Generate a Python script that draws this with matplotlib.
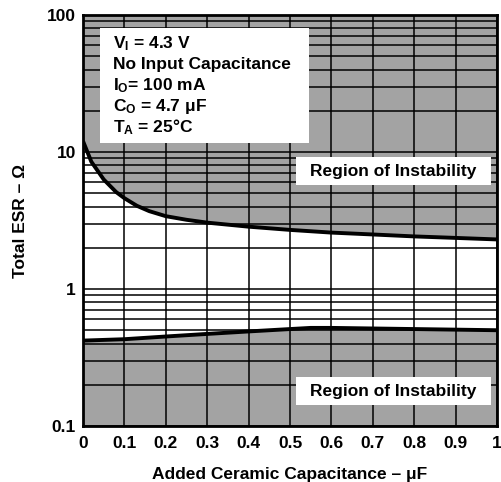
import numpy as np
import matplotlib
matplotlib.use('Agg')
import matplotlib.pyplot as plt
from matplotlib.patches import Rectangle

# upper stability boundary (ESR max) vs added ceramic capacitance
x_upper = [0.0, 0.02, 0.05, 0.08, 0.1, 0.13, 0.16, 0.2, 0.25, 0.3, 0.4, 0.5, 0.6, 0.7, 0.8, 0.9, 1.0]
esr_upper = [12.0, 8.5, 6.3, 5.1, 4.6, 4.05, 3.7, 3.4, 3.2, 3.05, 2.85, 2.7, 2.58, 2.5, 2.42, 2.36, 2.3]

# lower stability boundary (ESR min)
x_lower = [0.0, 0.1, 0.2, 0.3, 0.4, 0.5, 0.55, 0.6, 0.7, 0.8, 0.9, 1.0]
esr_lower = [0.42, 0.43, 0.45, 0.47, 0.49, 0.51, 0.52, 0.52, 0.515, 0.51, 0.505, 0.5]

xticks = [0, 0.1, 0.2, 0.3, 0.4, 0.5, 0.6, 0.7, 0.8, 0.9, 1]
xticklabels = ['0', '0.1', '0.2', '0.3', '0.4', '0.5', '0.6', '0.7', '0.8', '0.9', '1']
yticks = [0.1, 1, 10, 100]
yticklabels = ['0.1', '1', '10', '100']

info_lines = [r'V$_\mathregular{I}$ = 4.3 V',
              'No Input Capacitance',
              r'I$_\mathregular{O}$= 100 mA',
              r'C$_\mathregular{O}$ = 4.7 μF',
              r'T$_\mathregular{A}$ = 25°C']

plt.rcParams['font.family'] = ['Liberation Sans', 'DejaVu Sans']
plt.rcParams['font.weight'] = 'bold'
plt.rcParams['mathtext.default'] = 'regular'

fig = plt.figure(figsize=(5.01, 4.82), dpi=100)
ax = fig.add_axes([0.1657, 0.1162, 0.8263, 0.8527])
ax.set_yscale('log')
ax.set_xlim(0, 1)
ax.set_ylim(0.1, 100)

gray = '#a3a3a3'
ax.fill_between(x_upper, esr_upper, 100, color=gray, lw=0, zorder=1)
ax.fill_between(x_lower, 0.1, esr_lower, color=gray, lw=0, zorder=1)

ax.set_xticks(xticks)
ax.set_xticklabels(xticklabels)
ax.set_yticks(yticks)
ax.set_yticklabels(yticklabels)
ax.tick_params(which='both', length=0, labelsize=12.5)
ax.tick_params(axis='x', pad=7)
ax.tick_params(axis='y', pad=5)
for lab in ax.get_xticklabels() + ax.get_yticklabels():
    lab.set_fontweight('bold')
ax.grid(True, which='major', axis='x', color='black', lw=1.1, zorder=2)
ax.grid(True, which='both', axis='y', color='black', lw=1.1, zorder=2)
ax.set_axisbelow(False)

ax.plot(x_upper, esr_upper, color='black', lw=2.8, zorder=3, solid_capstyle='butt')
ax.plot(x_lower, esr_lower, color='black', lw=2.8, zorder=3, solid_capstyle='butt')

for s in ax.spines.values():
    s.set_linewidth(2)
    s.set_zorder(6)

# info box
ax.add_patch(Rectangle((0.041, 0.689), 0.505, 0.279, transform=ax.transAxes,
                       facecolor='white', edgecolor='none', zorder=4))
for i, t in enumerate(info_lines):
    ax.text(0.072, 0.930 - i * 0.0505, t, transform=ax.transAxes, fontsize=12.5,
            fontweight='bold', va='center', ha='left', zorder=5)

# region labels
for y0, yc in [(0.586, 0.62), (0.051, 0.085)]:
    ax.add_patch(Rectangle((0.514, y0), 0.472, 0.068, transform=ax.transAxes,
                           facecolor='white', edgecolor='none', zorder=4))
    ax.text(0.75, yc, 'Region of Instability', transform=ax.transAxes, fontsize=12.5,
            fontweight='bold', ha='center', va='center', zorder=5)

ax.set_xlabel('Added Ceramic Capacitance – μF', fontsize=12.5, fontweight='bold', labelpad=12)
ax.set_ylabel('Total ESR – Ω', fontsize=12.5, fontweight='bold', labelpad=14)

fig.savefig('out.png', dpi=100)
